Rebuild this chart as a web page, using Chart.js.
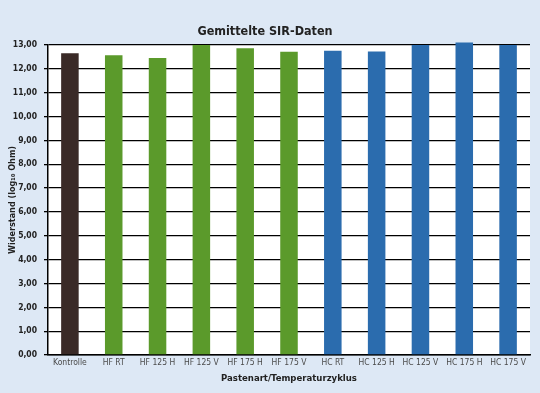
<!DOCTYPE html>
<html>
<head>
<meta charset="utf-8">
<script src="https://cdn.jsdelivr.net/npm/chart.js@4"></script>
<style>
  html, body { margin: 0; padding: 0; background: #dde8f5; }
  #wrap { width: 540px; height: 393px; }
</style>
</head>
<body>
<div id="wrap"><canvas id="sirChart"></canvas></div>
<script>
// Daten
const categories = ["Kontrolle", "HF RT", "HF 125 H", "HF 125 V", "HF 175 H", "HF 175 V",
  "HC RT", "HC 125 H", "HC 125 V", "HC 175 H", "HC 175 V"];
const sirValues = [12.65, 12.57, 12.45, 13.0, 12.86, 12.72, 12.76, 12.73, 13.0, 13.1, 13.0];
const yTicks = [0, 1, 2, 3, 4, 5, 6, 7, 8, 9, 10, 11, 12, 13];

const barColors = ["#3a2a27", "#5b9a2b", "#5b9a2b", "#5b9a2b", "#5b9a2b", "#5b9a2b",
  "#2b6cae", "#2b6cae", "#2b6cae", "#2b6cae", "#2b6cae"];

const FONT = "'Liberation Sans Narrow', 'DejaVu Sans Condensed', 'Arial Narrow', sans-serif";

// weisser Plotbereich
const plotBg = {
  id: "plotBg",
  beforeDraw(chart) {
    const { ctx, chartArea } = chart;
    ctx.save();
    ctx.fillStyle = "#ffffff";
    ctx.fillRect(chartArea.left, chartArea.top, chartArea.right - chartArea.left, chartArea.bottom - chartArea.top);
    ctx.restore();
  }
};

new Chart(document.getElementById("sirChart"), {
  type: "bar",
  data: {
    labels: categories,
    datasets: [{
      data: sirValues,
      backgroundColor: barColors,
      barPercentage: 0.4,
      categoryPercentage: 1,
      clip: false
    }]
  },
  options: {
    responsive: true,
    maintainAspectRatio: false,
    animation: false,
    layout: { padding: { left: 0, right: 10, top: 0, bottom: 0 } },
    plugins: {
      legend: { display: false },
      tooltip: { enabled: false },
      title: {
        display: true,
        text: "Gemittelte SIR-Daten",
        color: "#222222",
        font: { family: FONT, size: 12.5, weight: "bold" },
        padding: { top: 24, bottom: 6 }
      }
    },
    scales: {
      x: {
        grid: { display: false, drawTicks: false, tickLength: 0 },
        border: { display: true, color: "#000000", width: 1.5 },
        ticks: {
          color: "#4a4a4a",
          font: { family: FONT, size: 8.5 },
          padding: 3,
          maxRotation: 0,
          autoSkip: false
        },
        title: {
          display: true,
          text: "Pastenart/Temperaturzyklus",
          color: "#222222",
          font: { family: FONT, size: 9.5, weight: "bold" },
          padding: { top: 4, bottom: 9 }
        },
        afterFit(scale) { scale.height = 38; }
      },
      y: {
        min: 0,
        max: 13,
        afterBuildTicks(scale) { scale.ticks = yTicks.map(v => ({ value: v })); },
        grid: { color: "#000000", lineWidth: 1.3, tickLength: 4, drawTicks: true },
        border: { display: true, color: "#000000", width: 1.5 },
        ticks: {
          color: "#222222",
          font: { family: FONT, size: 8.5, weight: "bold" },
          padding: 7,
          callback: v => v.toFixed(2).replace(".", ",")
        },
        title: {
          display: true,
          text: "Widerstand (log₁₀ Ohm)",
          color: "#222222",
          font: { family: FONT, size: 9, weight: "bold" },
          padding: { top: 7, bottom: 0 }
        },
        afterFit(scale) { scale.width = 48; }
      }
    }
  },
  plugins: [plotBg]
});
</script>
</body>
</html>
